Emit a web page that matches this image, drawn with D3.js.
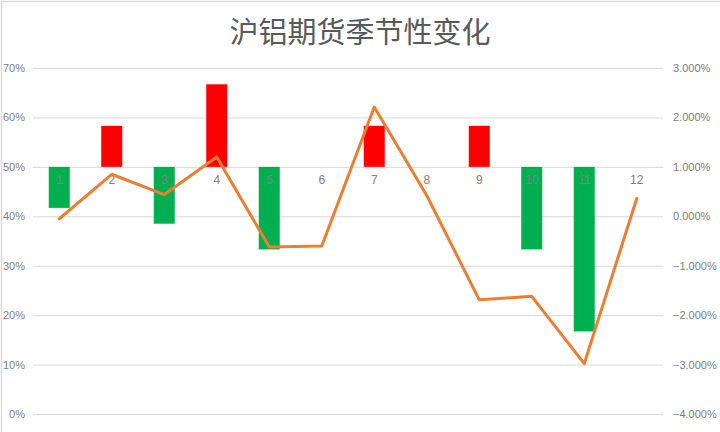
<!DOCTYPE html>
<html>
<head>
<meta charset="utf-8">
<script src="https://cdn.jsdelivr.net/npm/d3@7"></script>
<style>
  html, body { margin: 0; padding: 0; background: #fff; }
  svg { display: block; }
</style>
</head>
<body>
<div id="chart"></div>
<script>
// ── Data ──────────────────────────────────────────────────────────────────────
const months    = ["1", "2", "3", "4", "5", "6", "7", "8", "9", "10", "11", "12"];
// probability of a rise (left axis), bars grow from 50%
const upProb    = [0.417, 0.583, 0.385, 0.667, 0.333, 0.50, 0.583, 0.50, 0.583, 0.333, 0.167, 0.50];
// average monthly change (right axis)
const avgChange = [-0.0005, 0.0085, 0.0044, 0.0120, -0.0062, -0.0060, 0.0221, 0.0042, -0.0169, -0.0162, -0.0298, 0.0036];
const leftTicks  = [0, 0.1, 0.2, 0.3, 0.4, 0.5, 0.6, 0.7];
const rightTicks = [-0.04, -0.03, -0.02, -0.01, 0, 0.01, 0.02, 0.03];

const W = 720, H = 432;
const plot = { left: 33, right: 663, top: 68, bottom: 414 };

const svg = d3.select("#chart").append("svg")
  .attr("width", W).attr("height", H)
  .attr("viewBox", `0 0 ${W} ${H}`);

// frame
svg.append("rect")
  .attr("x", 1.5).attr("y", 1.5).attr("width", W + 10).attr("height", H + 10)
  .attr("fill", "none").attr("stroke", "#d9d9d9").attr("stroke-width", 1.5);

// ── Scales ────────────────────────────────────────────────────────────────────
const x = d3.scaleBand().domain(months).range([plot.left, plot.right])
  .paddingInner(0.6).paddingOuter(0.3);
const yL = d3.scaleLinear().domain([0, 0.7]).range([plot.bottom, plot.top]);
const yR = d3.scaleLinear().domain([-0.04, 0.03]).range([plot.bottom, plot.top]);

const tickFont = "'Liberation Sans', 'DejaVu Sans', sans-serif";
const grey = "#808080";

// ── Grid + axes ───────────────────────────────────────────────────────────────
const leftAxis = svg.append("g")
  .attr("transform", `translate(${plot.left},0)`)
  .call(d3.axisLeft(yL).tickValues(leftTicks).tickFormat(d3.format(".0%"))
    .tickSize(-(plot.right - plot.left)).tickPadding(8));
leftAxis.select(".domain").remove();
leftAxis.selectAll(".tick line").attr("stroke", "#d9d9d9").attr("stroke-width", 1);
leftAxis.selectAll(".tick text")
  .attr("fill", grey).attr("font-size", 11).attr("font-family", tickFont);

const rightAxis = svg.append("g")
  .attr("transform", `translate(${plot.right},0)`)
  .call(d3.axisRight(yR).tickValues(rightTicks).tickFormat(d3.format(".3%"))
    .tickSize(0).tickPadding(10));
rightAxis.select(".domain").remove();
rightAxis.selectAll(".tick text")
  .attr("fill", grey).attr("font-size", 11).attr("font-family", tickFont);

// ── Bars (based at 50%) ───────────────────────────────────────────────────────
const base = 0.5;
svg.append("g").selectAll("rect").data(months).join("rect")
  .attr("x", d => x(d))
  .attr("width", x.bandwidth())
  .attr("y", (d, i) => yL(Math.max(upProb[i], base)))
  .attr("height", (d, i) => Math.abs(yL(upProb[i]) - yL(base)))
  .attr("fill", (d, i) => upProb[i] > base ? "#ff0000" : "#00b050");

// category labels sit just under the 50% line
svg.append("g").selectAll("text").data(months).join("text")
  .attr("x", d => x(d) + x.bandwidth() / 2)
  .attr("y", yL(base) + 17)
  .attr("text-anchor", "middle")
  .attr("fill", grey).attr("font-size", 12).attr("font-family", tickFont)
  .text(d => d);

// ── Line (right axis) ─────────────────────────────────────────────────────────
const line = d3.line()
  .x((d, i) => x(months[i]) + x.bandwidth() / 2)
  .y(d => yR(d));
svg.append("path")
  .datum(avgChange)
  .attr("d", line)
  .attr("fill", "none")
  .attr("stroke", "#ed7d31")
  .attr("stroke-width", 3)
  .attr("stroke-linejoin", "round")
  .attr("stroke-linecap", "round");

// ── Title ─────────────────────────────────────────────────────────────────────
svg.append("text")
  .attr("x", 360).attr("y", 43)
  .attr("text-anchor", "middle")
  .attr("fill", "#595959")
  .attr("font-size", 29)
  .attr("font-family", "'Noto Sans CJK SC', sans-serif")
  .text("沪铝期货季节性变化");
</script>
</body>
</html>
